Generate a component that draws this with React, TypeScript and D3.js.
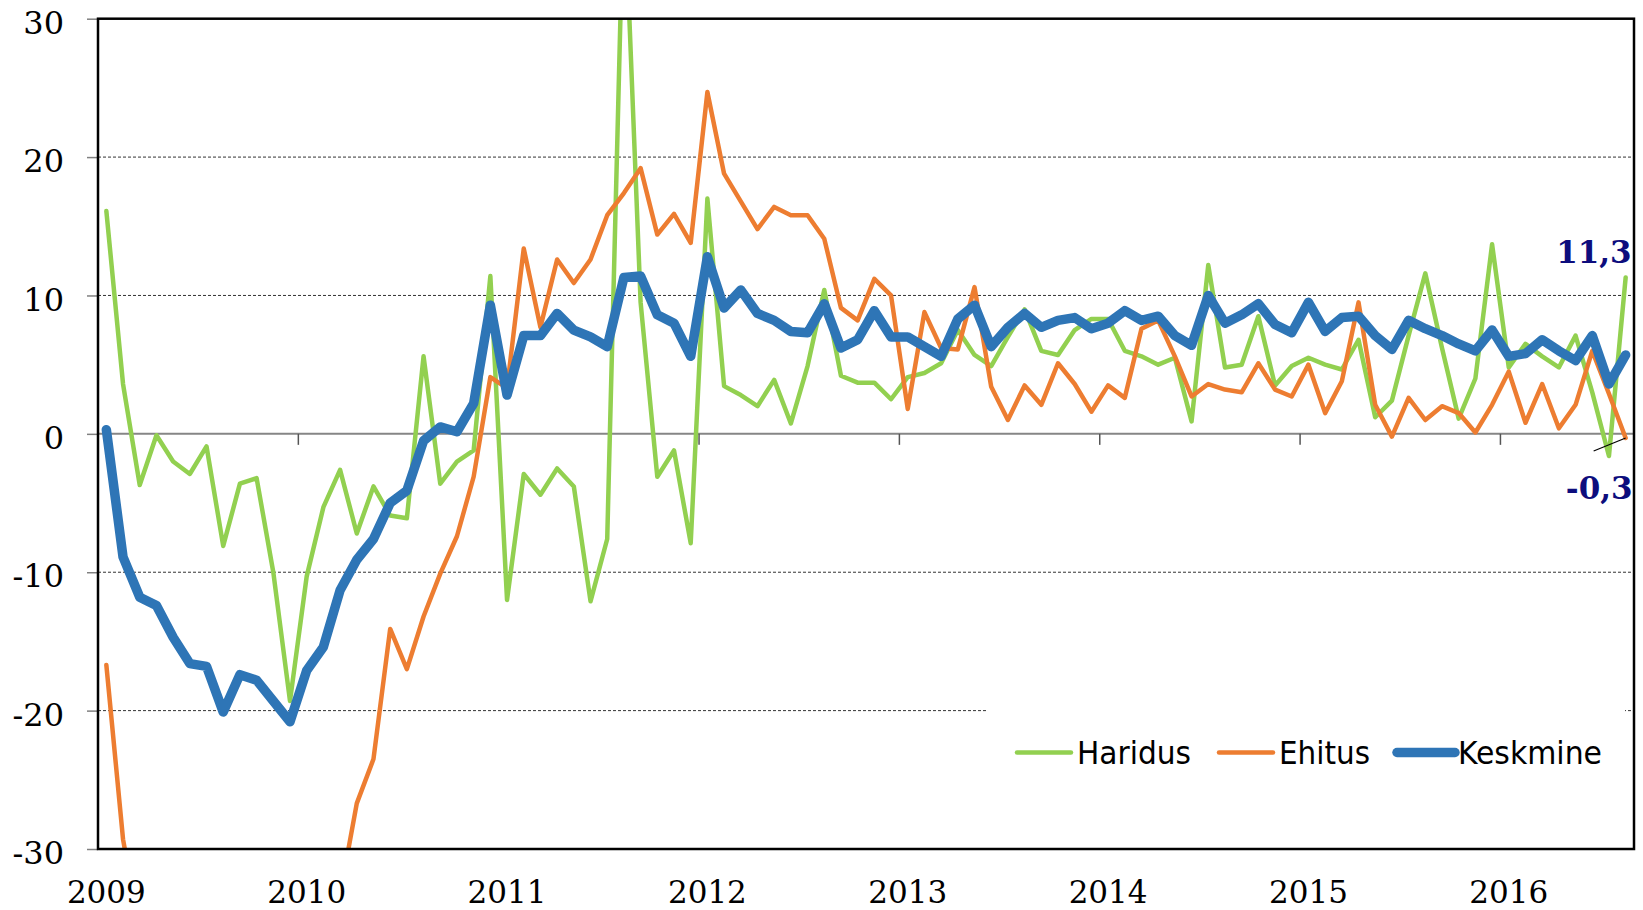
import React, { Component } from 'react';
import * as d3 from 'd3';

// monthly categories, Jan 2009 .. Aug 2016
const years = ['2009', '2010', '2011', '2012', '2013', '2014', '2015', '2016'];
const months = years.flatMap(yr => d3.range(1, 13).map(m => `${yr}-${String(m).padStart(2, '0')}`)).slice(0, 92);

const seriesNames = ['Haridus', 'Ehitus', 'Keskmine'];
const seriesColors = ['#92d050', '#ed7d31', '#2e75b6'];

const haridus = [
  16.1, 3.6, -3.7, -0.1, -2.0, -2.9, -0.9, -8.1, -3.6, -3.2, -10.0, -19.3,
  -10.3, -5.3, -2.6, -7.2, -3.8, -5.9, -6.1, 5.6, -3.6, -2.0, -1.2, 11.4,
  -12.0, -2.9, -4.4, -2.5, -3.8, -12.1, -7.6, 40.0, 9.5, -3.1, -1.2, -7.9,
  17.0, 3.45, 2.8, 2.0, 3.9, 0.75, 4.9, 10.4, 4.2, 3.7, 3.7, 2.5,
  4.1, 4.4, 5.1, 7.5, 5.7, 4.9, 7.0, 9.0, 6.0, 5.7, 7.5, 8.3,
  8.3, 6.0, 5.6, 5.0, 5.5, 0.9, 12.2, 4.8, 5.0, 8.5, 3.5, 4.9,
  5.5, 5.0, 4.65, 6.8, 1.2, 2.4, 7.1, 11.6, 6.2, 1.1, 4.0, 13.7,
  4.8, 6.5, 5.6, 4.8, 7.1, 3.0, -1.6, 11.3,
];

const ehitus = [
  -16.7, -29.3, -36.0, -40.0, -43.0, -46.0, -48.0, -47.0, -45.0, -44.0, -42.0, -40.0,
  -38.0, -35.0, -33.3, -26.7, -23.5, -14.1, -17.0, -13.2, -10.1, -7.4, -3.1, 4.1,
  3.3, 13.4, 7.7, 12.6, 10.9, 12.6, 15.8, 17.4, 19.2, 14.4, 15.9, 13.8,
  24.7, 18.8, 16.8, 14.8, 16.4, 15.8, 15.8, 14.1, 9.1, 8.2, 11.2, 10.0,
  1.8, 8.8, 6.2, 6.1, 10.6, 3.4, 1.0, 3.5, 2.1, 5.1, 3.6, 1.6,
  3.5, 2.6, 7.6, 8.2, 5.6, 2.7, 3.6, 3.2, 3.0, 5.1, 3.2, 2.7,
  5.0, 1.5, 3.8, 9.5, 2.1, -0.2, 2.6, 1.0, 2.0, 1.5, 0.1, 2.1,
  4.5, 0.8, 3.6, 0.4, 2.1, 6.0, 2.9, -0.3,
];

const keskmine = [
  0.3, -8.9, -11.8, -12.4, -14.7, -16.6, -16.8, -20.1, -17.4, -17.8, -19.3, -20.8,
  -17.1, -15.4, -11.3, -9.1, -7.6, -5.0, -4.1, -0.5, 0.5, 0.15, 2.2, 9.3,
  2.8, 7.1, 7.1, 8.7, 7.5, 7.0, 6.3, 11.3, 11.4, 8.6, 8.0, 5.6,
  12.8, 9.1, 10.4, 8.7, 8.2, 7.4, 7.3, 9.4, 6.2, 6.8, 8.9, 7.0,
  7.0, 6.3, 5.6, 8.3, 9.3, 6.3, 7.7, 8.7, 7.7, 8.2, 8.4, 7.6,
  8.0, 8.9, 8.2, 8.5, 7.1, 6.4, 10.0, 8.0, 8.6, 9.4, 7.9, 7.3,
  9.5, 7.4, 8.4, 8.5, 7.1, 6.1, 8.2, 7.6, 7.1, 6.5, 6.0, 7.5,
  5.6, 5.8, 6.8, 6.0, 5.3, 7.1, 3.6, 5.7,
];

const yTicks = [-30, -20, -10, 0, 10, 20, 30];

const W = 1643;
const H = 910;
const margin = { left: 98, right: 1634, top: 18.7, bottom: 849 };

const axisFont = '"DejaVu Serif", "Liberation Serif", serif';
const legendFont = '"Liberation Sans Narrow", "DejaVu Sans Condensed", "Liberation Sans", sans-serif';

class App extends Component {
  svgRef = React.createRef<SVGSVGElement>();

  componentDidMount() {
    this.drawChart();
  }

  drawChart() {
    const svg = d3.select(this.svgRef.current);
    svg.selectAll('*').remove();

    const x = d3.scaleBand<number>()
      .domain(d3.range(months.length))
      .range([margin.left, margin.right])
      .padding(0);
    const cx = (i: number) => (x(i) || 0) + x.bandwidth() / 2;

    const y = d3.scaleLinear()
      .domain([-30, 30])
      .range([margin.bottom, margin.top]);

    svg.append('defs').append('clipPath')
      .attr('id', 'plot-clip')
      .append('rect')
      .attr('x', margin.left)
      .attr('y', margin.top)
      .attr('width', margin.right - margin.left)
      .attr('height', margin.bottom - margin.top);

    // dashed gridlines
    svg.append('g')
      .selectAll('line')
      .data(yTicks.filter(t => t !== 0 && Math.abs(t) !== 30))
      .join('line')
      .attr('x1', margin.left)
      .attr('x2', margin.right)
      .attr('y1', d => y(d))
      .attr('y2', d => y(d))
      .attr('stroke', '#333')
      .attr('stroke-width', 1)
      .attr('stroke-dasharray', '3 2');

    // zero line + year boundary ticks
    svg.append('line')
      .attr('x1', margin.left)
      .attr('x2', margin.right)
      .attr('y1', y(0))
      .attr('y2', y(0))
      .attr('stroke', '#868686')
      .attr('stroke-width', 2);

    const boundaries = d3.range(12, months.length, 12);
    svg.append('g')
      .selectAll('line')
      .data(boundaries)
      .join('line')
      .attr('x1', d => x(d) || 0)
      .attr('x2', d => x(d) || 0)
      .attr('y1', y(0))
      .attr('y2', y(0) + 11)
      .attr('stroke', '#555')
      .attr('stroke-width', 1.5);

    // white legend backdrop (hides the -20 gridline behind it)
    svg.append('rect')
      .attr('x', 988)
      .attr('y', 700)
      .attr('width', 1625 - 988)
      .attr('height', 105)
      .attr('fill', '#fff');

    // series lines
    const series = [haridus, ehitus, keskmine];
    const widths = [4.5, 4.5, 9.5];
    const line = d3.line<number>()
      .x((d, i) => cx(i))
      .y(d => y(d));

    const lines = svg.append('g').attr('clip-path', 'url(#plot-clip)');
    series.forEach((s, k) => {
      lines.append('path')
        .datum(s)
        .attr('d', line)
        .attr('fill', 'none')
        .attr('stroke', seriesColors[k])
        .attr('stroke-width', widths[k])
        .attr('stroke-linejoin', 'round')
        .attr('stroke-linecap', 'round');
    });

    // y axis
    const yAxis = svg.append('g')
      .attr('transform', `translate(${margin.left},0)`)
      .call(d3.axisLeft(y).tickValues(yTicks).tickSize(11).tickPadding(23).tickFormat(d => String(d)));
    yAxis.select('.domain').remove();
    yAxis.selectAll('.tick line').attr('stroke', '#808080').attr('stroke-width', 1.5);
    yAxis.selectAll('.tick text')
      .attr('dy', '0.46em')
      .attr('fill', '#000')
      .style('font-family', axisFont)
      .style('font-size', '32px');

    // x axis: year under each January
    const janIdx = d3.range(0, months.length, 12);
    const xAxis = svg.append('g')
      .attr('transform', `translate(0,${margin.bottom})`)
      .call(d3.axisBottom(x).tickValues(janIdx).tickSize(0).tickPadding(32).tickFormat(d => months[d as number].slice(0, 4)));
    xAxis.select('.domain').remove();
    xAxis.selectAll('.tick text')
      .attr('fill', '#000')
      .style('font-family', axisFont)
      .style('font-size', '31px');

    // frame
    svg.append('rect')
      .attr('x', margin.left)
      .attr('y', margin.top)
      .attr('width', margin.right - margin.left)
      .attr('height', margin.bottom - margin.top)
      .attr('fill', 'none')
      .attr('stroke', '#000')
      .attr('stroke-width', 2.5);

    // end-value labels
    const last = months.length - 1;
    svg.append('text')
      .attr('x', cx(last) + 6)
      .attr('y', y(haridus[last]) - 14)
      .attr('text-anchor', 'end')
      .attr('fill', '#0d0d7d')
      .style('font-family', axisFont)
      .style('font-size', '31px')
      .style('font-weight', 'bold')
      .text(String(haridus[last]).replace('.', ','));

    svg.append('line')
      .attr('x1', cx(last) - 32)
      .attr('y1', y(ehitus[last]) + 13)
      .attr('x2', cx(last))
      .attr('y2', y(ehitus[last]))
      .attr('stroke', '#000')
      .attr('stroke-width', 1.2);

    svg.append('text')
      .attr('x', cx(last) + 7)
      .attr('y', y(ehitus[last]) + 61)
      .attr('text-anchor', 'end')
      .attr('fill', '#0d0d7d')
      .style('font-family', axisFont)
      .style('font-size', '31px')
      .style('font-weight', 'bold')
      .text(String(ehitus[last]).replace('.', ','));

    // legend
    const legendItems = [
      { x0: 1017, x1: 1071, tx: 1077, tw: 114, w: 4.5 },
      { x0: 1219, x1: 1273, tx: 1279, tw: 91, w: 4.5 },
      { x0: 1397, x1: 1455, tx: 1458, tw: 144, w: 9.5 },
    ];
    const legend = svg.append('g');
    legendItems.forEach((it, k) => {
      legend.append('line')
        .attr('x1', it.x0)
        .attr('x2', it.x1)
        .attr('y1', 752.5)
        .attr('y2', 752.5)
        .attr('stroke', seriesColors[k])
        .attr('stroke-width', it.w)
        .attr('stroke-linecap', 'round');
      legend.append('text')
        .attr('x', it.tx)
        .attr('y', 763.5)
        .attr('textLength', it.tw)
        .attr('lengthAdjust', 'spacingAndGlyphs')
        .attr('fill', '#000')
        .style('font-family', legendFont)
        .style('font-size', '32px')
        .text(seriesNames[k]);
    });
  }

  render() {
    return (
      <svg
        ref={this.svgRef}
        width={W}
        height={H}
        style={{ position: 'absolute', left: 0, top: 0, background: '#fff' }}
      />
    );
  }
}

export default App;
